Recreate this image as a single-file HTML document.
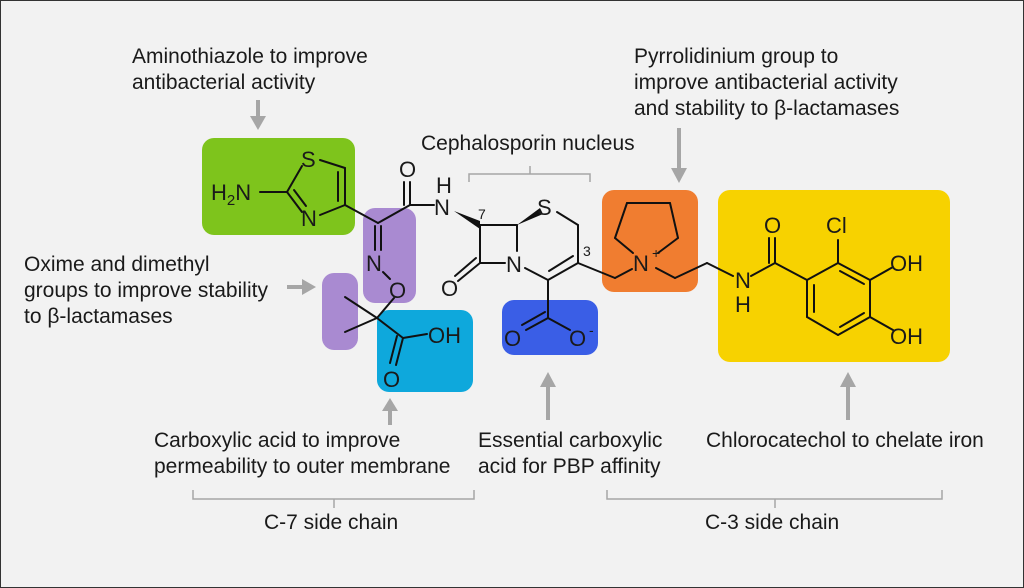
<!DOCTYPE html>
<html><head><meta charset="utf-8"><style>
html,body{margin:0;padding:0;background:#f2f2f2}
svg{display:block}
text{font-family:"Liberation Sans",Arial,sans-serif;fill:#1a1a1a}
</style></head><body>
<svg width="1024" height="588" viewBox="0 0 1024 588" xmlns="http://www.w3.org/2000/svg">
<rect x="0.5" y="0.5" width="1023" height="587" fill="#f2f2f2" stroke="#333" stroke-width="1"/>
<rect x="202" y="138" width="153" height="97" rx="12" fill="#7ec41c"/>
<rect x="363" y="208" width="53" height="95" rx="12" fill="#a98ad1"/>
<rect x="322" y="273" width="36" height="77" rx="12" fill="#a98ad1"/>
<rect x="377" y="310" width="96" height="82" rx="12" fill="#0ea8dc"/>
<rect x="502" y="300" width="96" height="55" rx="12" fill="#3a5ee6"/>
<rect x="602" y="190" width="96" height="102" rx="12" fill="#f07d30"/>
<rect x="718" y="190" width="232" height="172" rx="12" fill="#f7d200"/>

<g fill="#a6a6a6" stroke="none">
<rect x="256" y="100" width="4" height="18"/><polygon points="250,116 266,116 258,130"/>
<rect x="677" y="128" width="4" height="42"/><polygon points="671,168 687,168 679,183"/>
<rect x="287" y="285" width="16" height="4"/><polygon points="302,279 302,295 316,287"/>
<rect x="388" y="410" width="4" height="15"/><polygon points="382,411 398,411 390,398"/>
<rect x="546" y="386" width="4" height="34"/><polygon points="540,387 556,387 548,372"/>
<rect x="846" y="386" width="4" height="34"/><polygon points="840,387 856,387 848,372"/>
</g>
<g fill="none" stroke="#a6a6a6" stroke-width="1.5">
<path d="M469,182 V174 H590 V182 M530,174 V166"/>
<path d="M193,490 V499 H474 V490 M334,499 V508"/>
<path d="M607,490 V499 H942 V490 M775,499 V508"/>
</g>

<g stroke="#111" stroke-width="2" fill="none" stroke-linecap="round">
<line x1="260" y1="192" x2="287" y2="192"/>
<line x1="287" y1="192" x2="302" y2="166"/>
<line x1="320" y1="160" x2="345" y2="168"/>
<line x1="345" y1="168" x2="345" y2="205"/>
<line x1="338" y1="172" x2="338" y2="201"/>
<line x1="345" y1="205" x2="320" y2="215"/>
<line x1="287" y1="192" x2="302" y2="212"/>
<line x1="294" y1="190" x2="306" y2="206"/>
<line x1="345" y1="205" x2="378" y2="223"/>
<line x1="378" y1="223" x2="410" y2="205"/>
<line x1="410" y1="205" x2="410" y2="182"/>
<line x1="404" y1="205" x2="404" y2="182"/>
<line x1="410" y1="205" x2="434" y2="205"/>
<line x1="375" y1="226" x2="375" y2="250"/>
<line x1="381" y1="226" x2="381" y2="250"/>
<line x1="383" y1="272" x2="390" y2="279"/>
<line x1="394" y1="298" x2="377" y2="318"/>
<line x1="377" y1="318" x2="345" y2="297"/>
<line x1="377" y1="318" x2="345" y2="332"/>
<line x1="377" y1="318" x2="403" y2="338"/>
<line x1="403" y1="338" x2="427" y2="334"/>
<line x1="403" y1="338" x2="396" y2="365"/>
<line x1="397" y1="336" x2="390" y2="363"/>
<line x1="480" y1="225" x2="517" y2="225"/>
<line x1="480" y1="225" x2="480" y2="263"/>
<line x1="480" y1="263" x2="505" y2="263"/>
<line x1="517" y1="225" x2="517" y2="251"/>
<line x1="480" y1="263" x2="458" y2="281"/>
<line x1="476" y1="258" x2="455" y2="276"/>
<line x1="557" y1="212" x2="578" y2="225"/>
<line x1="578" y1="225" x2="578" y2="263"/>
<line x1="578" y1="263" x2="548" y2="280"/>
<line x1="573" y1="256" x2="549" y2="271"/>
<line x1="548" y1="280" x2="525" y2="268"/>
<line x1="548" y1="280" x2="548" y2="318"/>
<line x1="548" y1="318" x2="526" y2="330"/>
<line x1="545" y1="312" x2="522" y2="325"/>
<line x1="548" y1="318" x2="570" y2="330"/>
<line x1="578" y1="263" x2="615" y2="278"/>
<line x1="615" y1="278" x2="632" y2="269"/>
<line x1="633" y1="253" x2="615" y2="238"/>
<line x1="615" y1="238" x2="627" y2="203"/>
<line x1="627" y1="203" x2="670" y2="203"/>
<line x1="670" y1="203" x2="678" y2="238"/>
<line x1="678" y1="238" x2="658" y2="253"/>
<line x1="656" y1="268" x2="675" y2="278"/>
<line x1="675" y1="278" x2="707" y2="263"/>
<line x1="707" y1="263" x2="733" y2="276"/>
<line x1="751" y1="276" x2="775" y2="263"/>
<line x1="775" y1="263" x2="775" y2="238"/>
<line x1="769" y1="263" x2="769" y2="238"/>
<line x1="775" y1="263" x2="807" y2="280"/>
<line x1="807" y1="280" x2="838" y2="263"/>
<line x1="838" y1="263" x2="870" y2="280"/>
<line x1="870" y1="280" x2="870" y2="317"/>
<line x1="870" y1="317" x2="838" y2="335"/>
<line x1="838" y1="335" x2="807" y2="317"/>
<line x1="807" y1="317" x2="807" y2="280"/>
<line x1="840" y1="271" x2="864" y2="284"/>
<line x1="864" y1="313" x2="840" y2="327"/>
<line x1="814" y1="285" x2="814" y2="312"/>
<line x1="838" y1="263" x2="838" y2="240"/>
<line x1="870" y1="280" x2="893" y2="267"/>
<line x1="870" y1="317" x2="893" y2="330"/>
</g>
<polygon points="454,211 480,221 480,229" fill="#111"/>
<polygon points="517,225 540,208 543,214" fill="#111"/>

<g font-size="22">
<text x="211" y="200">H<tspan font-size="15" dy="5">2</tspan><tspan dy="-5">N</tspan></text>
<text x="301" y="167">S</text>
<text x="301" y="226">N</text>
<text x="399" y="177">O</text>
<text x="436" y="193">H</text>
<text x="434" y="215">N</text>
<text x="366" y="271">N</text>
<text x="389" y="298">O</text>
<text x="428" y="343">OH</text>
<text x="383" y="387">O</text>
<text x="537" y="215">S</text>
<text x="506" y="272">N</text>
<text x="441" y="296">O</text>
<text x="504" y="346">O</text>
<text x="569" y="346">O</text>
<text x="633" y="271">N</text>
<text x="735" y="288">N</text>
<text x="735" y="312">H</text>
<text x="764" y="233">O</text>
<text x="826" y="233">Cl</text>
<text x="890" y="271">OH</text>
<text x="890" y="344">OH</text>
</g>
<g font-size="14">
<text x="478" y="219">7</text>
<text x="583" y="256">3</text>
<text x="589" y="335">-</text>
<text x="652" y="258">+</text>
</g>

<g font-size="21">
<text x="132" y="63">Aminothiazole to improve</text>
<text x="132" y="89">antibacterial activity</text>
<text x="634" y="63">Pyrrolidinium group to</text>
<text x="634" y="89">improve antibacterial activity</text>
<text x="634" y="115">and stability to β-lactamases</text>
<text x="421" y="150">Cephalosporin nucleus</text>
<text x="24" y="271">Oxime and dimethyl</text>
<text x="24" y="297">groups to improve stability</text>
<text x="24" y="323">to β-lactamases</text>
<text x="154" y="447">Carboxylic acid to improve</text>
<text x="154" y="473">permeability to outer membrane</text>
<text x="478" y="447">Essential carboxylic</text>
<text x="478" y="473">acid for PBP affinity</text>
<text x="706" y="447">Chlorocatechol to chelate iron</text>
<text x="264" y="529">C-7 side chain</text>
<text x="705" y="529">C-3 side chain</text>
</g>
</svg>
</body></html>
